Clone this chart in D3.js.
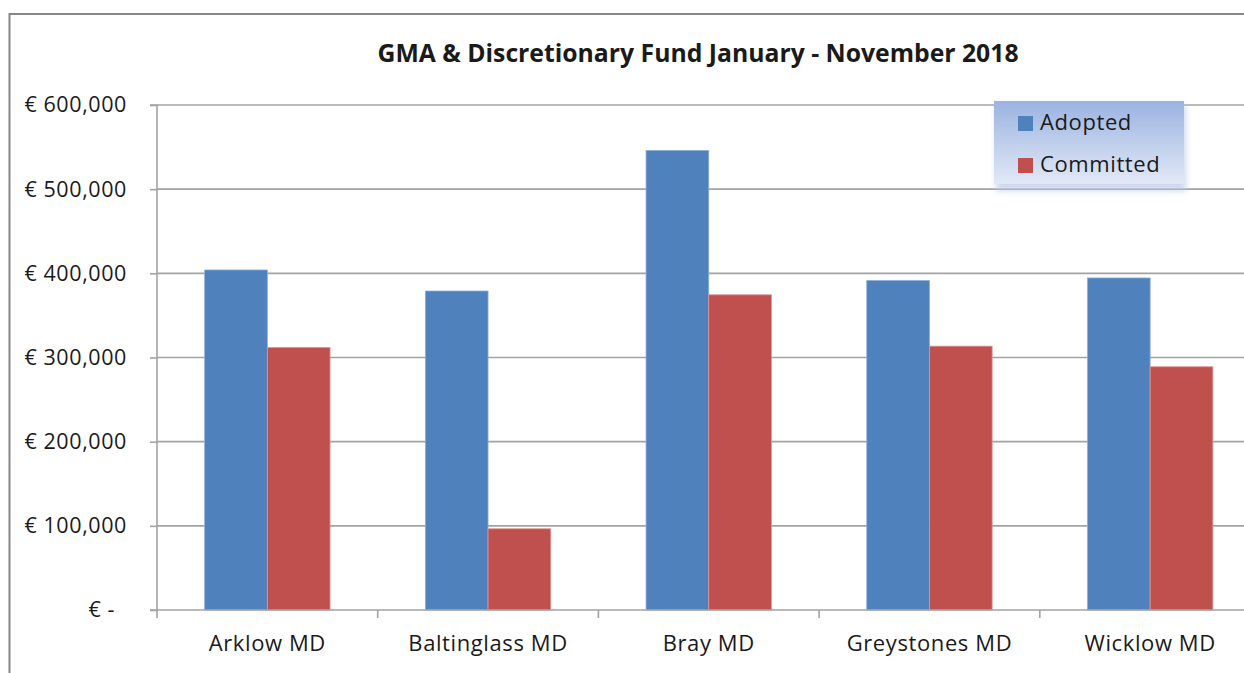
<!DOCTYPE html>
<html>
<head>
<meta charset="utf-8">
<script src="https://cdn.jsdelivr.net/npm/d3@7"></script>
<style>
html, body { margin: 0; padding: 0; background: #fff; }
svg { display: block; }
text { font-family: "Open Sans", "Liberation Sans", sans-serif; fill: #1a1a1a; }
</style>
</head>
<body>
<svg id="chart" width="1244" height="673"></svg>
<script>
const chartTitle = "GMA & Discretionary Fund January - November 2018";
const categories = ["Arklow MD", "Baltinglass MD", "Bray MD", "Greystones MD", "Wicklow MD"];
const seriesNames = ["Adopted", "Committed"];
const adopted = [404000, 379000, 546000, 391500, 394500];
const committed = [312000, 96500, 374500, 313500, 289000];
const yTickValues = [0, 100000, 200000, 300000, 400000, 500000, 600000];
const yTickLabels = ["€ -", "€ 100,000", "€ 200,000", "€ 300,000", "€ 400,000", "€ 500,000", "€ 600,000"];
const colors = ["#4f81bd", "#c0504d"];

const svg = d3.select("#chart");
const W = 1244, H = 673;
const plot = { left: 157, top: 105, bottom: 610, right: 1260.5 };

// outer chart border (cropped at right/bottom)
svg.append("path")
  .attr("d", `M9.5,${H + 2} L9.5,14 L${W + 2},14`)
  .attr("fill", "none").attr("stroke", "#878787").attr("stroke-width", 2);

const y = d3.scaleLinear().domain([0, 600000]).range([plot.bottom, plot.top]);
const x0 = d3.scaleBand().domain(categories).range([plot.left, plot.right]).padding(0);
const x1 = d3.scaleBand().domain(seriesNames).range([0, x0.bandwidth()]).paddingInner(0).paddingOuter(0.76);

// gridlines
svg.append("g").selectAll("line").data(yTickValues.filter(v => v > 0)).join("line")
  .attr("x1", plot.left).attr("x2", plot.right)
  .attr("y1", d => y(d)).attr("y2", d => y(d))
  .attr("stroke", "#a3a3a3").attr("stroke-width", 1.6);

// bars
const rows = categories.map((c, i) => ({ cat: c, vals: [adopted[i], committed[i]] }));
svg.append("g").selectAll("g").data(rows).join("g")
  .attr("transform", d => `translate(${x0(d.cat)},0)`)
  .selectAll("rect").data(d => d.vals.map((v, j) => ({ s: seriesNames[j], v, j }))).join("rect")
  .attr("x", d => x1(d.s)).attr("width", x1.bandwidth())
  .attr("y", d => y(d.v)).attr("height", d => y(0) - y(d.v))
  .attr("fill", d => colors[d.j])
  .attr("stroke", d => d.j === 0 ? "#8eaedb" : "#dc9694").attr("stroke-width", 0.8);

// y axis
const yAxis = d3.axisLeft(y).tickValues(yTickValues)
  .tickFormat((d, i) => yTickLabels[i]).tickSize(7).tickPadding(23);
const gy = svg.append("g").attr("transform", `translate(${plot.left},0)`).call(yAxis);
gy.select(".domain").attr("stroke", "#a3a3a3").attr("stroke-width", 1.6).attr("d", `M-7,${plot.top}H0V${plot.bottom}H-7`);
gy.selectAll(".tick line").attr("stroke", "#a3a3a3").attr("stroke-width", 1.6);
gy.selectAll(".tick text")
  .style("font-size", "21.5px").style("font-family", "'Open Sans', sans-serif")
  .attr("fill", "#1a1a1a").attr("letter-spacing", "0.6px")
  .attr("dx", d => d === 0 ? -12 : 0);

// x axis
const xAxis = d3.axisBottom(x0).tickSize(0).tickPadding(21);
const gx = svg.append("g").attr("transform", `translate(0,${plot.bottom})`).call(xAxis);
gx.select(".domain").attr("stroke", "#a3a3a3").attr("stroke-width", 1.6).attr("d", `M${plot.left},0H${plot.right}`);
gx.selectAll(".tick text")
  .style("font-size", "22px").style("font-family", "'Open Sans', sans-serif")
  .attr("letter-spacing", "0.6px")
  .attr("fill", "#1a1a1a").attr("dy", "0.9em");
// category separator ticks
svg.append("g").selectAll("line").data(categories).join("line")
  .attr("x1", d => x0(d)).attr("x2", d => x0(d))
  .attr("y1", plot.bottom).attr("y2", plot.bottom + 8)
  .attr("stroke", "#a3a3a3").attr("stroke-width", 1.6);

// title
const t = svg.append("text").attr("x", 698).attr("y", 62).attr("text-anchor", "middle")
  .style("font-weight", "bold").style("font-size", "21px").text(chartTitle);
const targetW = 641;
const w = t.node().getComputedTextLength();
t.style("font-size", (21 * targetW / w).toFixed(2) + "px");

// legend
const defs = svg.append("defs");
const grad = defs.append("linearGradient").attr("id", "lg").attr("x1", 0).attr("y1", 0).attr("x2", 0).attr("y2", 1);
grad.append("stop").attr("offset", "0%").attr("stop-color", "#9bb3e1");
grad.append("stop").attr("offset", "100%").attr("stop-color", "#e2e9f6");
const blur = defs.append("filter").attr("id", "sh").attr("x", "-20%").attr("y", "-20%").attr("width", "140%").attr("height", "150%");
blur.append("feGaussianBlur").attr("stdDeviation", 3);

const lg = svg.append("g").attr("transform", "translate(994,101)");
lg.append("rect").attr("x", 2).attr("y", 4).attr("width", 190).attr("height", 86)
  .attr("fill", "#b9c9e6").attr("opacity", 0.7).attr("filter", "url(#sh)");
lg.append("rect").attr("width", 190).attr("height", 83).attr("fill", "url(#lg)");
const li = lg.selectAll("g.item").data(seriesNames).join("g").attr("class", "item")
  .attr("transform", (d, i) => `translate(24,${i * 42 + 15})`);
li.append("rect").attr("width", 15).attr("height", 15).attr("fill", (d, i) => colors[i]);
li.append("text").attr("x", 22).attr("y", 6.5).attr("dy", "0.36em")
  .style("font-size", "22px").attr("letter-spacing", "0.6px").attr("fill", "#1a1a1a").text(d => d);
</script>
</body>
</html>
